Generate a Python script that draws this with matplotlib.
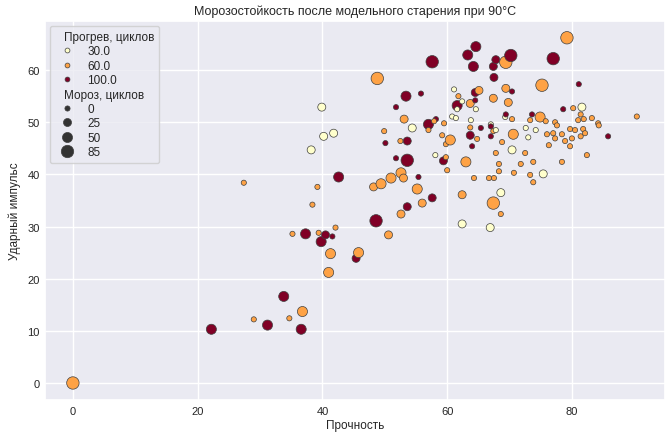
import numpy as np
import pandas as pd
import seaborn as sns
import matplotlib
matplotlib.use("Agg")
from matplotlib import pyplot as plt
from matplotlib.offsetbox import HPacker, TextArea

# прочность, ударный импульс, прогрев (циклы), мороз (циклы)
strength = [0.0, 22.2, 27.4, 29.0, 31.2, 33.8, 34.7, 35.2, 36.6, 36.8,
            37.3, 38.2, 38.4, 39.2, 39.4, 39.8, 39.9, 40.2, 40.5, 41.0,
            41.3, 41.6, 41.8, 42.1, 42.6, 45.4, 45.8, 48.2, 48.6, 48.8,
            49.4, 49.9, 50.1, 50.6, 51.0, 51.8, 51.8, 52.5, 52.6, 52.6,
            53.0, 53.1, 53.4, 53.6, 53.6, 53.6, 54.4, 55.2, 55.4, 55.8,
            56.0, 57.0, 57.0, 57.6, 57.6, 58.1, 58.2, 57.9, 59.2, 59.4,
            59.5, 59.8, 59.8, 60.0, 60.5, 60.8, 61.1, 61.4, 61.6, 61.6,
            61.8, 62.4, 62.4, 62.4, 63.0, 63.3, 63.7, 63.7, 63.7, 63.8,
            64.0, 64.2, 64.3, 64.5, 64.5, 64.6, 64.6, 64.8, 65.1, 65.4,
            66.7, 66.9, 67.0, 67.0, 67.0, 67.4, 67.4, 67.4, 67.4, 67.5,
            67.5, 67.8, 67.8, 67.8, 68.3, 68.3, 68.6, 68.6, 68.8, 69.3,
            69.4, 69.4, 69.4, 69.8, 70.2, 70.4, 70.4, 70.4, 70.6, 70.7,
            71.8, 72.5, 72.6, 73.0, 73.3, 73.3, 73.6, 73.8, 73.8, 74.2,
            74.9, 75.2, 75.4, 75.8, 76.0, 76.3, 77.0, 77.0, 77.3, 77.3,
            77.6, 78.4, 78.4, 78.6, 78.9, 79.2, 79.7, 79.7, 80.0, 80.2,
            80.5, 81.0, 81.1, 81.4, 81.4, 81.6, 81.8, 81.9, 82.1, 82.4,
            83.2, 84.2, 84.3, 85.8, 90.4]
impulse = [0.0, 10.3, 38.4, 12.2, 11.1, 16.6, 12.4, 28.6, 10.3, 13.7,
           28.6, 44.7, 34.2, 37.6, 28.8, 27.1, 52.9, 47.3, 28.4, 21.2,
           24.8, 28.1, 47.9, 29.8, 39.5, 23.9, 25.0, 37.6, 31.1, 58.4,
           38.2, 48.3, 46.0, 28.4, 39.3, 52.9, 43.1, 46.4, 40.3, 32.4,
           39.3, 50.6, 55.0, 46.4, 42.7, 33.8, 48.9, 37.2, 39.5, 55.5,
           34.5, 49.6, 48.5, 61.6, 35.5, 43.7, 50.6, 50.2, 47.5, 42.6,
           49.8, 45.8, 43.3, 40.8, 46.6, 51.1, 56.3, 50.8, 53.2, 52.5,
           55.0, 54.0, 36.1, 30.5, 42.4, 62.9, 53.6, 49.0, 47.5, 50.4,
           45.4, 60.7, 39.3, 55.7, 54.2, 64.5, 52.5, 46.8, 56.1, 48.9,
           39.3, 29.8, 49.6, 49.2, 47.3, 60.7, 54.6, 48.3, 34.5, 58.6,
           39.3, 62.0, 48.5, 44.1, 42.0, 40.6, 36.5, 32.4, 46.2, 51.0,
           61.5, 56.5, 51.5, 53.8, 62.8, 55.9, 50.6, 44.7, 47.7, 40.3,
           42.0, 44.1, 48.9, 47.1, 50.4, 39.9, 51.5, 42.4, 38.5, 48.5,
           51.0, 57.1, 40.1, 50.2, 47.7, 45.6, 62.2, 47.9, 50.0, 46.9,
           49.4, 47.7, 42.4, 52.5, 46.4, 66.2, 48.7, 45.4, 46.9, 52.7,
           48.5, 50.4, 57.3, 51.5, 47.3, 52.9, 48.7, 50.6, 47.9, 43.7,
           50.8, 49.8, 49.4, 47.3, 51.1]
heating = [60, 100, 60, 60, 100, 100, 60, 60, 100, 60,
           100, 30, 60, 60, 60, 100, 30, 30, 100, 60,
           60, 100, 30, 60, 100, 100, 60, 60, 100, 60,
           60, 60, 100, 60, 60, 100, 100, 60, 60, 60,
           60, 60, 100, 100, 100, 100, 30, 60, 100, 100,
           60, 100, 60, 100, 100, 30, 100, 60, 60, 100,
           60, 60, 60, 60, 60, 30, 30, 30, 100, 30,
           60, 30, 60, 30, 60, 100, 60, 60, 100, 30,
           100, 100, 60, 100, 100, 100, 30, 60, 60, 100,
           60, 30, 30, 100, 100, 100, 60, 60, 60, 100,
           60, 100, 30, 60, 60, 60, 30, 60, 60, 30,
           60, 60, 100, 60, 100, 100, 60, 30, 60, 60,
           60, 60, 30, 30, 60, 60, 100, 60, 60, 30,
           60, 60, 30, 60, 60, 60, 100, 60, 60, 60,
           60, 60, 60, 100, 60, 60, 60, 60, 60, 60,
           60, 60, 100, 60, 60, 30, 60, 60, 60, 60,
           60, 60, 60, 100, 60]
frost = [85, 50, 0, 0, 50, 50, 0, 0, 50, 50,
         50, 25, 0, 0, 0, 50, 25, 25, 25, 50,
         50, 0, 25, 0, 50, 25, 50, 25, 85, 85,
         50, 0, 0, 25, 50, 0, 0, 0, 50, 25,
         25, 25, 50, 25, 85, 25, 25, 50, 0, 0,
         25, 50, 0, 85, 25, 0, 0, 0, 0, 25,
         0, 0, 0, 0, 50, 0, 0, 0, 50, 0,
         0, 0, 25, 25, 50, 50, 25, 0, 25, 0,
         0, 50, 0, 25, 0, 50, 0, 0, 25, 0,
         0, 25, 0, 0, 0, 25, 25, 0, 85, 25,
         0, 25, 0, 0, 0, 0, 25, 0, 0, 0,
         85, 25, 0, 25, 85, 0, 0, 25, 50, 0,
         0, 0, 0, 0, 0, 0, 0, 0, 0, 0,
         50, 85, 25, 0, 0, 0, 85, 0, 0, 0,
         0, 0, 0, 0, 0, 85, 0, 0, 0, 0,
         0, 0, 0, 0, 0, 25, 0, 0, 0, 0,
         0, 0, 0, 0, 0]

hue_title = "Прогрев, циклов"
size_title = "Мороз, циклов"

df = pd.DataFrame({
    "Прочность": strength,
    "Ударный импульс": impulse,
    hue_title: np.array(heating, dtype=float),
    size_title: frost,
})

sns.set_theme(style="darkgrid")
plt.rcParams["font.family"] = ["Liberation Sans", "DejaVu Sans"]

fig, ax = plt.subplots(figsize=(6.67, 4.39), dpi=100)
fig.subplots_adjust(left=0.067, right=0.997, top=0.951, bottom=0.086)

sns.scatterplot(data=df, x="Прочность", y="Ударный импульс",
                hue=hue_title, size=size_title,
                palette="YlOrRd", sizes=(14, 80),
                edgecolor="0.25", linewidth=0.5, ax=ax)

ax.set_title("Морозостойкость после модельного старения при 90°C", fontsize=9, pad=5)
ax.set_xlabel("Прочность", fontsize=8.5, labelpad=2)
ax.set_ylabel("Ударный импульс", fontsize=8.5, labelpad=5)
ax.tick_params(axis="x", labelsize=8, length=0, pad=4)
ax.tick_params(axis="y", labelsize=8, length=0, pad=3.5)

sns.move_legend(ax, "upper left", fontsize=8.5, frameon=True,
                labelspacing=0.2, borderpad=0.45, handletextpad=0.7,
                borderaxespad=0.45)
leg = ax.get_legend()

# подзаголовки легенды сдвигаем влево, без места под маркер
for hp in leg.findobj(HPacker):
    kids = hp.get_children()
    if len(kids) == 2 and isinstance(kids[1], TextArea):
        if kids[1].get_text() in (hue_title, size_title):
            kids[0].set_width(0)

# маркеры цвета в легенде поменьше
for h in leg.legend_handles[1:4]:
    if hasattr(h, "set_markersize"):
        h.set_markersize(3.5)
    elif hasattr(h, "set_sizes"):
        h.set_sizes([12])

fig.savefig("out.png", dpi=100)
